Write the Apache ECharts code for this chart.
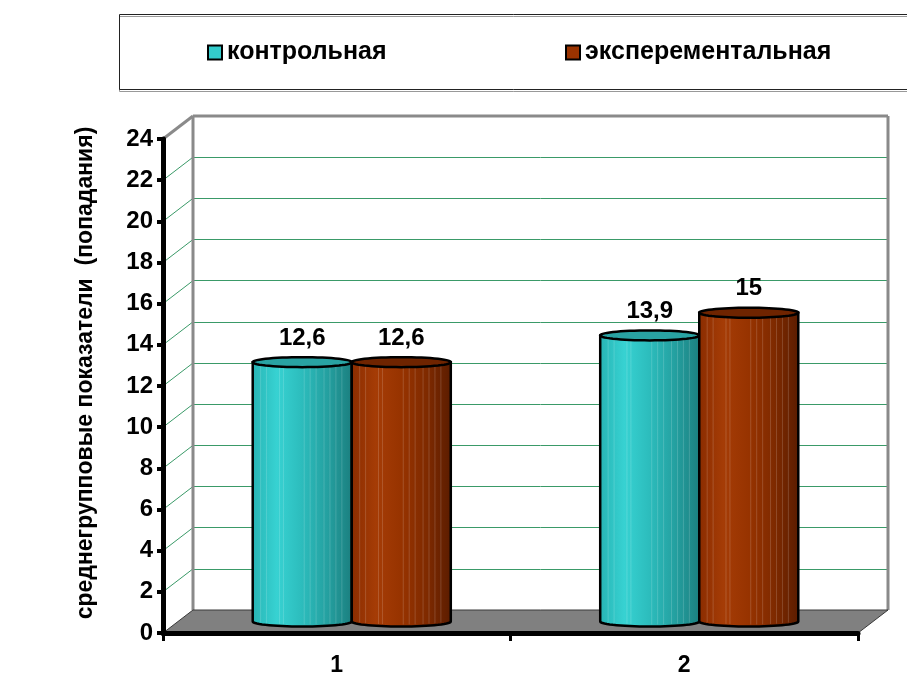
<!DOCTYPE html>
<html>
<head>
<meta charset="utf-8">
<script src="https://cdn.jsdelivr.net/npm/echarts@6/dist/echarts.min.js"></script>
<style>
  html, body { margin: 0; padding: 0; background: #fff; }
  #chart { width: 907px; height: 677px; }
</style>
</head>
<body>
<div id="chart"></div>
<script>
// Group means per measurement
const categories = ['1', '2'];
const controlValues = [12.6, 13.9];
const experimentalValues = [12.6, 15];
const seriesNames = ['контрольная', 'эксперементальная'];
const yTicks = [0, 2, 4, 6, 8, 10, 12, 14, 16, 18, 20, 22, 24];
const yAxisTitle = 'среднегрупповые показатели  (попадания)';

const FONT = '"Liberation Sans", Arial, sans-serif';
const DX = 30, DY = -23;          // depth of the 3D box (back wall offset)
const BAR_FRAC = 0.285;           // cylinder width as a share of the category band

const palettes = [
  { body: ['#27b3b3', '#37d2d2', '#2cbcbc', '#24a0a0', '#1b7e7e'], top: '#29a3a3', legend: '#33cccc' },
  { body: ['#8a2c00', '#a53c06', '#973300', '#7f2a00', '#5a1c00'], top: '#6f2400', legend: '#993300' }
];

function fmt(v) { return String(v).replace('.', ','); }

function cylinderRenderer(side, pal) {
  return function (params, api) {
    const ci = api.value(0), v = api.value(1);
    const base = api.coord([ci, 0]);
    const top = api.coord([ci, v]);
    const band = api.size([1, 0])[0];
    const w = band * BAR_FRAC;
    const cx = base[0] + side * w / 2;
    const rx = w / 2, ry = 5;
    const x0 = cx - rx, x1 = cx + rx;
    const yb = base[1], yt = top[1];

    const body = [[x0, yt]];
    for (let k = 0; k <= 30; k++) {
      const a = Math.PI - Math.PI * k / 30;
      body.push([cx + rx * Math.cos(a), yb + ry * Math.sin(a)]);
    }
    body.push([x1, yt]);

    const cap = [];
    for (let k = 0; k < 60; k++) {
      const a = 2 * Math.PI * k / 60;
      cap.push([cx + rx * Math.cos(a), yt + ry * Math.sin(a)]);
    }

    const stops = pal.body.map((c, i) => ({ offset: i / (pal.body.length - 1), color: c }));
    const children = [{
      type: 'polygon',
      shape: { points: body },
      style: {
        fill: new echarts.graphic.LinearGradient(0, 0, 1, 0, stops),
        stroke: '#000', lineWidth: 2.5
      }
    }];

    // faint vertical banding on the cylinder surface
    [0.08, 0.14, 0.27, 0.31, 0.52, 0.58, 0.64, 0.72, 0.78, 0.84, 0.9].forEach(f => {
      const x = x0 + w * f;
      const dy = ry * Math.sqrt(Math.max(0, 1 - Math.pow((x - cx) / rx, 2)));
      children.push({
        type: 'line',
        shape: { x1: x, y1: yt + dy, x2: x, y2: yb + dy - 2 },
        style: { stroke: 'rgba(255,255,255,0.16)', lineWidth: 1 }
      });
    });

    children.push({
      type: 'polygon',
      shape: { points: cap },
      style: { fill: pal.top, stroke: '#000', lineWidth: 2.5 }
    });
    children.push({
      type: 'text',
      style: {
        text: fmt(v), x: cx, y: yt - 24,
        align: 'center', verticalAlign: 'middle',
        fontSize: 24, fontWeight: 'bold', fontFamily: FONT, fill: '#000'
      }
    });
    return { type: 'group', children: children };
  };
}

// side walls, back-wall frame and floor of the 3D box
function frameRenderer(params, api) {
  const cs = params.coordSys;
  const xL = cs.x, xR = cs.x + cs.width;
  const yOf = v => api.coord([0, v])[1];
  const y0 = yOf(yTicks[0]);
  const yTop = yOf(yTicks[yTicks.length - 1]);
  const children = [];

  yTicks.slice(1, -1).forEach(t => {
    const y = yOf(t);
    children.push({
      type: 'line',
      shape: { x1: xL, y1: y, x2: xL + DX, y2: y + DY },
      style: { stroke: '#3a9a68', lineWidth: 1 }
    });
  });

  const gray = { stroke: '#8a8a8a', lineWidth: 3 };
  children.push({ type: 'line', shape: { x1: xL, y1: yTop, x2: xL + DX, y2: yTop + DY }, style: gray });
  children.push({ type: 'line', shape: { x1: xL + DX, y1: yTop + DY, x2: xR + DX, y2: yTop + DY }, style: gray });
  children.push({ type: 'line', shape: { x1: xL + DX, y1: yTop + DY, x2: xL + DX, y2: y0 + DY }, style: gray });
  children.push({ type: 'line', shape: { x1: xR + DX, y1: yTop + DY, x2: xR + DX, y2: y0 + DY }, style: gray });

  children.push({
    type: 'polygon',
    shape: { points: [[xL, y0], [xR, y0], [xR + DX, y0 + DY], [xL + DX, y0 + DY]] },
    style: { fill: '#808080', stroke: '#3a3a3a', lineWidth: 1 }
  });
  return { type: 'group', children: children };
}

const chart = echarts.init(document.getElementById('chart'), null, { renderer: 'canvas' });

const plotW = 695, plotH = 494;
const legendText = { fontSize: 25, fontWeight: 'bold', color: '#000', fontFamily: FONT };
const option = {
  backgroundColor: '#fff',
  animation: false,
  graphic: [{
    type: 'rect', left: 117, top: 12, z: 0,
    shape: { width: 820, height: 75 },
    style: { fill: 'none', stroke: '#222', lineWidth: 1, shadowColor: '#999', shadowOffsetX: 0, shadowOffsetY: 2, shadowBlur: 0 }
  }],
  legend: [
    {
      data: [{ name: seriesNames[0], itemStyle: { color: palettes[0].legend, borderColor: '#000', borderWidth: 2 } }],
      left: 202, top: 35, icon: 'rect', itemWidth: 14, itemHeight: 14, selectedMode: false,
      textStyle: legendText
    },
    {
      data: [{ name: seriesNames[1], itemStyle: { color: palettes[1].legend, borderColor: '#000', borderWidth: 2 } }],
      left: 560, top: 35, icon: 'rect', itemWidth: 14, itemHeight: 14, selectedMode: false,
      textStyle: legendText
    }
  ],
  grid: [
    { left: 163, top: 139, width: plotW, height: plotH },                 // front plane
    { left: 163 + DX / 2, top: 139 + DY / 2, width: plotW, height: plotH }, // cylinder plane
    { left: 163 + DX, top: 139 + DY, width: plotW, height: plotH }          // back wall
  ],
  xAxis: [
    {
      gridIndex: 0, type: 'category', data: categories, z: 6,
      axisLine: { lineStyle: { color: '#000', width: 5 } },
      axisTick: { show: true, length: 8, lineStyle: { color: '#000', width: 3 } },
      axisLabel: { color: '#000', fontSize: 23, fontWeight: 'bold', fontFamily: FONT, margin: 21 }
    },
    { gridIndex: 1, type: 'category', data: categories, show: false },
    { gridIndex: 2, type: 'category', data: categories, show: false }
  ],
  yAxis: [
    {
      gridIndex: 0, type: 'value', min: 0, max: 24, interval: 2, z: 6,
      name: yAxisTitle, nameLocation: 'middle', nameGap: 66, nameRotate: 90,
      nameTextStyle: { color: '#000', fontSize: 23, fontWeight: 'bold', fontFamily: FONT, padding: [0, 0, 0, 26] },
      axisLine: { show: true, lineStyle: { color: '#000', width: 5 } },
      axisTick: { show: true, length: 6, lineStyle: { color: '#000', width: 4 } },
      axisLabel: { color: '#000', fontSize: 24, fontWeight: 'bold', fontFamily: FONT, margin: 10 },
      splitLine: { show: false }
    },
    { gridIndex: 1, type: 'value', min: 0, max: 24, interval: 2, show: false },
    {
      gridIndex: 2, type: 'value', min: 0, max: 24, interval: 2,
      axisLine: { show: false }, axisTick: { show: false }, axisLabel: { show: false },
      splitLine: { show: true, lineStyle: { color: '#3a9a68', width: 1 } }
    }
  ],
  series: [
    {
      name: 'frame', type: 'custom', xAxisIndex: 0, yAxisIndex: 0, z: 1, silent: true,
      renderItem: frameRenderer, data: [[0, 0]]
    },
    {
      name: seriesNames[0], type: 'custom', xAxisIndex: 1, yAxisIndex: 1, z: 3,
      itemStyle: { color: palettes[0].legend },
      renderItem: cylinderRenderer(-1, palettes[0]),
      data: controlValues.map((v, i) => [i, v])
    },
    {
      name: seriesNames[1], type: 'custom', xAxisIndex: 1, yAxisIndex: 1, z: 3,
      itemStyle: { color: palettes[1].legend },
      renderItem: cylinderRenderer(1, palettes[1]),
      data: experimentalValues.map((v, i) => [i, v])
    }
  ]
};
chart.setOption(option);
</script>
</body>
</html>
